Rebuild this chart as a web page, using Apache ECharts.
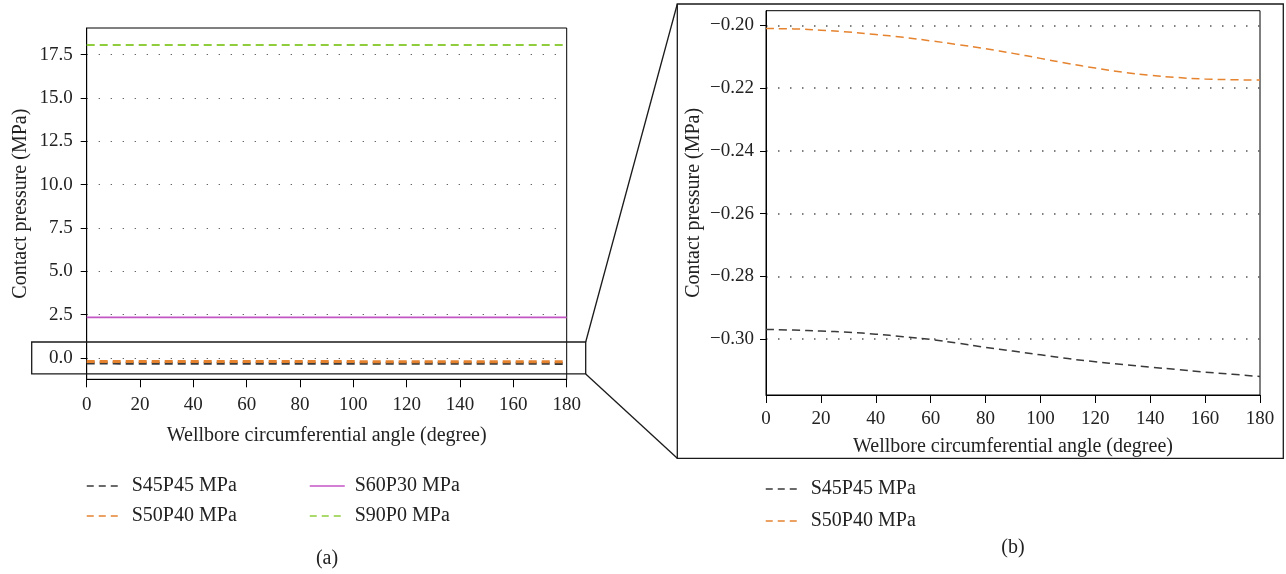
<!DOCTYPE html>
<html>
<head>
<meta charset="utf-8">
<script src="https://cdn.jsdelivr.net/npm/echarts@6/dist/echarts.min.js"></script>
<style>
  html, body { margin: 0; padding: 0; background: #ffffff; }
  #chart { width: 1286px; height: 574px; }
</style>
</head>
<body>
<div id="chart"></div>
<script>
// Wellbore circumferential angle (degree)
const angles = [0, 10, 20, 30, 40, 50, 60, 70, 80, 90, 100, 110, 120, 130, 140, 150, 160, 170, 180];

// Contact pressure (MPa) per loading case
const s45p45 = [-0.2969, -0.2971, -0.2974, -0.2978, -0.2984, -0.2992, -0.3001, -0.3013, -0.3026, -0.3038,
                -0.3050, -0.3062, -0.3072, -0.3081, -0.3089, -0.3097, -0.3105, -0.3112, -0.3119];
const s50p40 = [-0.2010, -0.2011, -0.2015, -0.2021, -0.2029, -0.2038, -0.2049, -0.2061, -0.2074, -0.2089,
                -0.2105, -0.2121, -0.2136, -0.2149, -0.2159, -0.2166, -0.2171, -0.2173, -0.2174];
const s60p30 = [2.34, 2.34, 2.34, 2.34, 2.34, 2.34, 2.34, 2.34, 2.34, 2.34,
                2.34, 2.34, 2.34, 2.34, 2.34, 2.34, 2.34, 2.34, 2.34];
const s90p0  = [18.05, 18.05, 18.05, 18.05, 18.05, 18.05, 18.05, 18.05, 18.05, 18.05,
                18.05, 18.05, 18.05, 18.05, 18.05, 18.05, 18.05, 18.05, 18.05];

// Tick labels
const fullTicks = [0, 2.5, 5, 7.5, 10, 12.5, 15, 17.5];
const zoomTicks = [-0.30, -0.28, -0.26, -0.24, -0.22, -0.20];

// Axis extents
const fullRange = [-1.23, 19.03];
const zoomRange = [-0.3178, -0.1953];
// Band of the full chart enlarged in panel (b)
const zoomBand = [-0.92, 0.92];

const names = ['S45P45 MPa', 'S50P40 MPa', 'S60P30 MPa', 'S90P0 MPa'];
const colors = { dark: '#3a3a3a', orange: '#e5832f', magenta: '#c455c4', green: '#8fcd3c' };

const pairs = ys => angles.map((a, i) => [a, ys[i]]);

const FONT = 'Liberation Serif';
const TXT = '#222222';

function xAxisDef(gridIndex, margin, nameGap) {
  return {
    type: 'value', gridIndex, min: 0, max: 180, interval: 20,
    name: 'Wellbore circumferential angle (degree)',
    nameLocation: 'middle', nameGap,
    nameTextStyle: { fontFamily: FONT, fontSize: 20, color: TXT },
    axisLine: { show: true, onZero: false, lineStyle: { color: '#000', width: 1 } },
    axisTick: { show: true, inside: false, length: 8, lineStyle: { color: '#000', width: 1 } },
    axisLabel: { fontFamily: FONT, fontSize: 19, color: TXT, margin },
    splitLine: { show: false }
  };
}

function yAxisDef(gridIndex, range, ticks, fmt, margin, nameGap, dot) {
  return {
    type: 'value', gridIndex, min: range[0], max: range[1],
    name: 'Contact pressure (MPa)',
    nameLocation: 'middle', nameGap, nameRotate: 90,
    nameTextStyle: { fontFamily: FONT, fontSize: 20, color: TXT },
    axisLine: { show: true, onZero: false, lineStyle: { color: '#000', width: 1 } },
    axisTick: { show: true, inside: false, length: 6, customValues: ticks, lineStyle: { color: '#000', width: 1 } },
    axisLabel: { fontFamily: FONT, fontSize: 19, color: TXT, margin, customValues: ticks, formatter: fmt },
    splitLine: { show: true, lineStyle: { color: '#555', width: dot, type: [dot, 12 - dot] } }
  };
}

const minus = v => (v < 0 ? '\u2212' : '') + Math.abs(v).toFixed(2);
const oneDec = v => (v < 0 ? '\u2212' : '') + Math.abs(v).toFixed(1);

const legendText = { fontFamily: FONT, fontSize: 20, color: TXT };
const dashed = [7, 5];
const noDot = { opacity: 0 };

function legendDef(left, top, gap, items) {
  return {
    left, top, padding: 0, orient: 'vertical', itemWidth: 35, itemHeight: 14, itemGap: gap,
    textStyle: legendText, formatter: ' {name}', selectedMode: false,
    data: items.map(([name, type]) => ({ name, itemStyle: noDot, lineStyle: { width: 1.5, type } }))
  };
}

const option = {
  animation: false,
  backgroundColor: '#ffffff',
  grid: [
    { left: 86.7, top: 28, width: 480, height: 351.3, show: true, borderColor: '#000', borderWidth: 1, backgroundColor: 'transparent' },
    { left: 766, top: 10.7, width: 494, height: 384.3, show: true, borderColor: '#000', borderWidth: 1, backgroundColor: 'transparent' }
  ],
  xAxis: [xAxisDef(0, 16, 46), xAxisDef(1, 15, 42)],
  yAxis: [
    yAxisDef(0, fullRange, fullTicks, oneDec, 14, 56, 1.2),
    yAxisDef(1, zoomRange, zoomTicks, minus, 12, 62, 1.5)
  ],
  legend: [
    legendDef(86, 476, 10, [[names[0], dashed], [names[1], dashed]]),
    legendDef(309, 476, 10, [[names[2], 'solid'], [names[3], dashed]]),
    legendDef(765, 479, 12, [[names[0], dashed], [names[1], dashed]])
  ],
  series: [
    { name: names[0], type: 'line', xAxisIndex: 0, yAxisIndex: 0, data: pairs(s45p45), showSymbol: false, symbol: 'none',
      color: colors.dark, lineStyle: { color: colors.dark, width: 3, type: [8, 5] }, z: 3 },
    { name: names[1], type: 'line', xAxisIndex: 0, yAxisIndex: 0, data: pairs(s50p40), showSymbol: false, symbol: 'none',
      color: colors.orange, lineStyle: { color: colors.orange, width: 3, type: [8, 5] }, z: 4 },
    { name: names[2], type: 'line', xAxisIndex: 0, yAxisIndex: 0, data: pairs(s60p30), showSymbol: false, symbol: 'none',
      color: colors.magenta, lineStyle: { color: colors.magenta, width: 1.8, type: 'solid' } },
    { name: names[3], type: 'line', xAxisIndex: 0, yAxisIndex: 0, data: pairs(s90p0), showSymbol: false, symbol: 'none',
      color: colors.green, lineStyle: { color: colors.green, width: 2, type: [8, 5] } },
    { name: names[0], type: 'line', xAxisIndex: 1, yAxisIndex: 1, data: pairs(s45p45), showSymbol: false, symbol: 'none',
      smooth: 0.5, color: colors.dark, lineStyle: { color: colors.dark, width: 1.5, type: [8, 5] } },
    { name: names[1], type: 'line', xAxisIndex: 1, yAxisIndex: 1, data: pairs(s50p40), showSymbol: false, symbol: 'none',
      smooth: 0.5, color: colors.orange, lineStyle: { color: colors.orange, width: 1.5, type: [8, 5] } }
  ]
};

const chart = echarts.init(document.getElementById('chart'), null, { renderer: 'canvas' });
chart.setOption(option);

// Zoom frame around the near-zero band, the panel (b) frame, and the two connector lines
const bandTop = chart.convertToPixel({ gridIndex: 0 }, [180, zoomBand[1]]);
const bandBot = chart.convertToPixel({ gridIndex: 0 }, [180, zoomBand[0]]);
const bandLeft = chart.convertToPixel({ gridIndex: 0 }, [0, 0])[0] - 55;
const bandRight = bandTop[0] + 19;
const panel = { x: 677.3, y: 4, w: 606, h: 454.3 };
const frame = { stroke: '#1a1a1a', lineWidth: 1.3, fill: null };

chart.setOption({
  graphic: [
    { type: 'rect', shape: { x: bandLeft, y: bandTop[1], width: bandRight - bandLeft, height: bandBot[1] - bandTop[1] }, style: frame, z: 10 },
    { type: 'rect', shape: { x: panel.x, y: panel.y, width: panel.w, height: panel.h }, style: frame, z: 10 },
    { type: 'line', shape: { x1: bandRight, y1: bandTop[1], x2: panel.x, y2: panel.y }, style: { stroke: '#1a1a1a', lineWidth: 1.3 }, z: 10 },
    { type: 'line', shape: { x1: bandRight, y1: bandBot[1], x2: panel.x, y2: panel.y + panel.h }, style: { stroke: '#1a1a1a', lineWidth: 1.3 }, z: 10 },
    { type: 'text', x: 327, y: 559, style: { text: '(a)', font: '20px "Liberation Serif"', fill: TXT, textAlign: 'center', textVerticalAlign: 'middle' } },
    { type: 'text', x: 1013, y: 548, style: { text: '(b)', font: '20px "Liberation Serif"', fill: TXT, textAlign: 'center', textVerticalAlign: 'middle' } }
  ]
});
</script>
</body>
</html>
